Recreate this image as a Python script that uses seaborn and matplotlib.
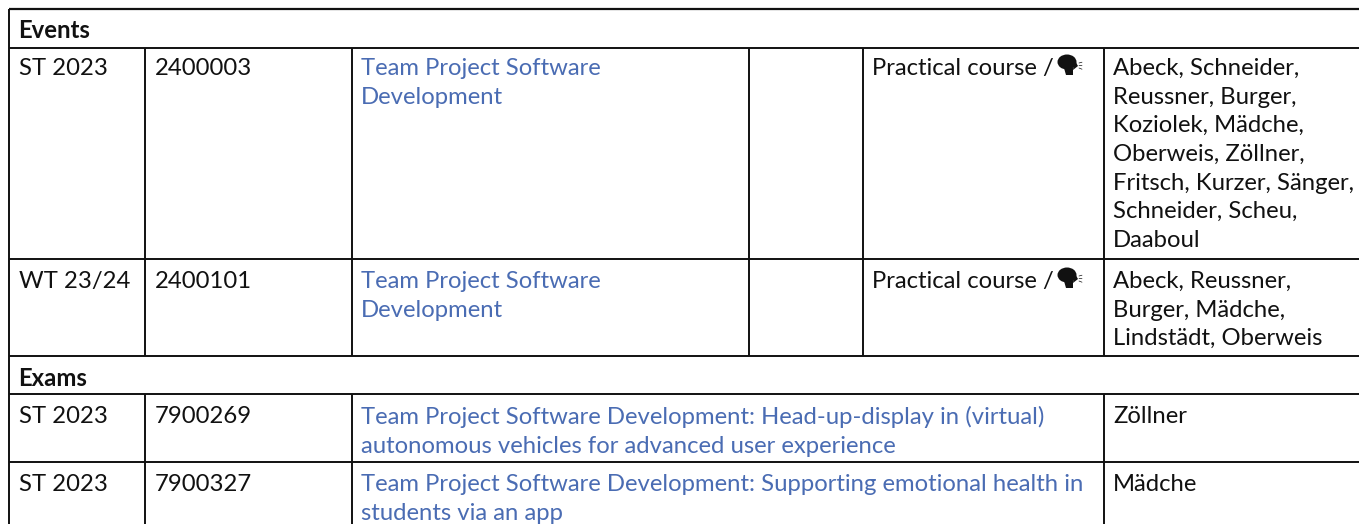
import matplotlib
matplotlib.use("Agg")
import matplotlib.pyplot as plt
import seaborn as sns
from matplotlib.patches import Ellipse, Polygon

sns.set_theme(style="white")
plt.rcParams["font.family"] = ["Lato", "Noto Sans", "DejaVu Sans"]

# table content
section_titles = ["Events", "Exams"]
terms = ["ST 2023", "WT 23/24", "ST 2023", "ST 2023"]
numbers = ["2400003", "2400101", "7900269", "7900327"]
titles = [
    "Team Project Software\nDevelopment",
    "Team Project Software\nDevelopment",
    "Team Project Software Development: Head-up-display in (virtual)\nautonomous vehicles for advanced user experience",
    "Team Project Software Development: Supporting emotional health in\nstudents via an app",
]
kinds = ["Practical course /", "Practical course /", "", ""]
lecturers = [
    "Abeck, Schneider,\nReussner, Burger,\nKoziolek, Mädche,\nOberweis, Zöllner,\nFritsch, Kurzer, Sänger,\nSchneider, Scheu,\nDaaboul",
    "Abeck, Reussner,\nBurger, Mädche,\nLindstädt, Oberweis",
    "Zöllner",
    "Mädche",
]

# grid positions in pixels
row_tops = [47.5, 259, 394, 462]
row_bottoms = [259, 355.5, 462, 525]
text_pad = [10.5, 12, 12, 12]
section_tops = [8.5, 355.5]
col_x = [9, 145, 352, 749, 863, 1104]
link_color = "#4a6cb3"
ink = "#111111"
fs = 17.2
lh = 1.45

fig = plt.figure(figsize=(13.59, 5.24), dpi=100)
ax = fig.add_axes([0, 0, 1, 1])
ax.set_xlim(0, 1359)
ax.set_ylim(524, 0)
ax.axis("off")

def hline(y, lw=1.4):
    ax.plot([col_x[0], 1359], [y, y], color=ink, lw=lw, solid_capstyle="butt")

def vline(x, y0, y1):
    ax.plot([x, x], [y0, y1], color=ink, lw=1.4, solid_capstyle="butt")

def speaker(x, y):
    ax.add_patch(Ellipse((x + 9, y - 3), 19, 15, color=ink, lw=0))
    ax.add_patch(Polygon([[x + 6, y + 3], [x + 15, y + 3], [x + 15, y + 10], [x + 8, y + 10]], color=ink, lw=0))
    ax.add_patch(Polygon([[x + 16, y - 6], [x + 20, y + 1], [x + 15, y + 5]], color=ink, lw=0))
    for dy in (-2, 0.5, 3):
        ax.plot([x + 21, x + 24], [y + dy, y + dy * 1.4], color=ink, lw=0.5)

hline(section_tops[0], lw=1.6)
for y in row_tops + [row_bottoms[1]]:
    hline(y)
vline(col_x[0], section_tops[0], 525)

for sec_y, sec in zip(section_tops, section_titles):
    ax.text(col_x[0] + 9.5, sec_y + 22.5, sec, fontsize=fs, fontweight="bold", color=ink, va="center")

for i in range(4):
    top, bot = row_tops[i], row_bottoms[i]
    for x in col_x[1:3]:
        vline(x, top, bot)
    if i < 2:
        vline(col_x[3], top, bot)
        vline(col_x[4], top, bot)
    vline(col_x[5], top, bot)
    ty = top + text_pad[i]
    ax.text(col_x[0] + 10, ty, terms[i], fontsize=fs, color=ink, va="top", linespacing=lh)
    ax.text(col_x[1] + 10, ty, numbers[i], fontsize=fs, color=ink, va="top", linespacing=lh)
    ax.text(col_x[2] + 9, ty, titles[i], fontsize=fs, color=link_color, va="top", linespacing=lh)
    if kinds[i]:
        ax.text(col_x[4] + 9, ty, kinds[i], fontsize=fs, color=ink, va="top", linespacing=lh)
        speaker(col_x[4] + 195, ty + 7)
    ax.text(col_x[5] + 9, ty, lecturers[i], fontsize=fs, color=ink, va="top", linespacing=lh)

fig.savefig("out.png", dpi=100)
plt.close(fig)
